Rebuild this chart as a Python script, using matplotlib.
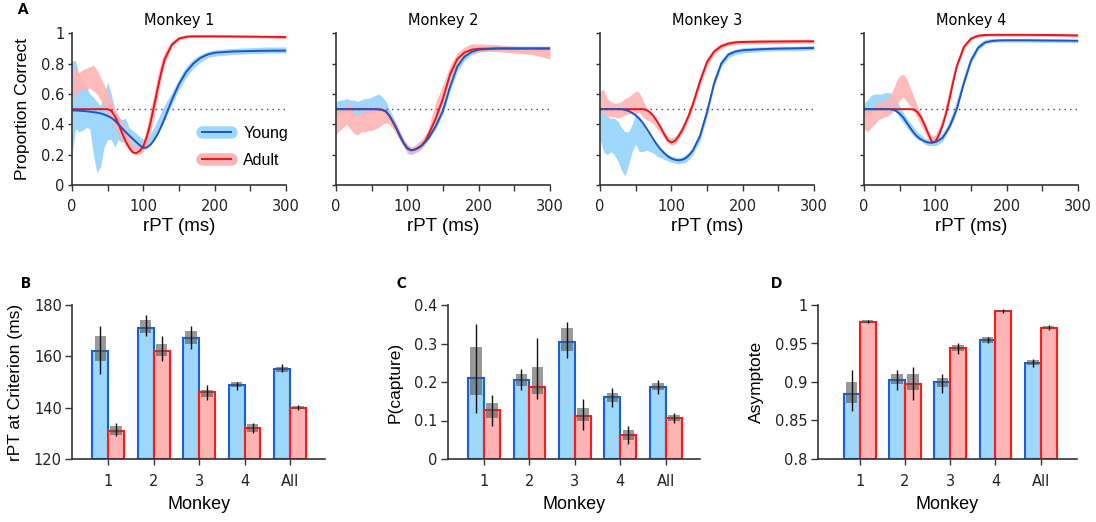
import matplotlib
matplotlib.use("Agg")
from matplotlib import pyplot as plt
from matplotlib.lines import Line2D
import numpy as np

plt.rcParams['font.family'] = ['Liberation Sans', 'DejaVu Sans']

# time grid (ms) for the curves
rpt = [0, 5, 10, 15, 20, 25, 30, 35, 40, 45, 50, 55, 60, 65, 70, 75, 80, 85, 90, 95,
       100, 105, 110, 115, 120, 125, 130, 140, 150, 160, 170, 180, 190, 200,
       225, 250, 275, 300]

# fitted curves
young_fit = [
    [0.492, 0.491, 0.49, 0.488, 0.486, 0.483, 0.48, 0.477, 0.472, 0.465, 0.455, 0.443, 0.425,
     0.40, 0.375, 0.35, 0.327, 0.305, 0.283, 0.262, 0.244, 0.248, 0.265, 0.295, 0.335, 0.385,
     0.44, 0.56, 0.665, 0.745, 0.80, 0.838, 0.86, 0.872, 0.88, 0.883, 0.885, 0.886],
    [0.5, 0.5, 0.5, 0.5, 0.5, 0.5, 0.5, 0.5, 0.5, 0.5, 0.5, 0.5, 0.499, 0.495, 0.485, 0.455,
     0.415, 0.37, 0.32, 0.275, 0.245, 0.23, 0.233, 0.243, 0.258, 0.283, 0.31, 0.39, 0.49, 0.65,
     0.78, 0.845, 0.877, 0.892, 0.9, 0.9, 0.9, 0.9],
    [0.5, 0.5, 0.5, 0.5, 0.5, 0.5, 0.5, 0.495, 0.488, 0.475, 0.46, 0.437, 0.41, 0.375, 0.338,
     0.30, 0.265, 0.235, 0.21, 0.19, 0.175, 0.166, 0.163, 0.166, 0.177, 0.197, 0.226, 0.32,
     0.48, 0.67, 0.80, 0.86, 0.88, 0.888, 0.895, 0.899, 0.901, 0.903],
    [0.5, 0.5, 0.5, 0.5, 0.5, 0.5, 0.5, 0.5, 0.497, 0.488, 0.47, 0.445, 0.41, 0.375, 0.343,
     0.318, 0.30, 0.288, 0.28, 0.278, 0.283, 0.295, 0.31, 0.345, 0.385, 0.44, 0.50, 0.67, 0.82,
     0.905, 0.94, 0.95, 0.953, 0.954, 0.954, 0.953, 0.952, 0.951],
]
adult_fit = [
    [0.5, 0.5, 0.5, 0.5, 0.5, 0.5, 0.5, 0.5, 0.5, 0.5, 0.5, 0.49, 0.455, 0.405, 0.345, 0.29,
     0.247, 0.215, 0.21, 0.225, 0.255, 0.32, 0.41, 0.52, 0.635, 0.74, 0.83, 0.925, 0.965, 0.977,
     0.98, 0.98, 0.98, 0.98, 0.979, 0.978, 0.977, 0.975],
    [0.5, 0.5, 0.5, 0.5, 0.5, 0.5, 0.5, 0.5, 0.5, 0.5, 0.5, 0.5, 0.499, 0.495, 0.485, 0.455,
     0.415, 0.37, 0.32, 0.275, 0.24, 0.228, 0.232, 0.245, 0.262, 0.29, 0.335, 0.44, 0.57, 0.73,
     0.83, 0.873, 0.892, 0.898, 0.9, 0.9, 0.9, 0.9],
    [0.5, 0.5, 0.5, 0.5, 0.5, 0.5, 0.5, 0.5, 0.5, 0.5, 0.5, 0.5, 0.5, 0.495, 0.48, 0.455, 0.42,
     0.38, 0.335, 0.295, 0.28, 0.29, 0.32, 0.36, 0.41, 0.465, 0.53, 0.68, 0.81, 0.88, 0.915,
     0.932, 0.94, 0.943, 0.945, 0.946, 0.947, 0.947],
    [0.5, 0.5, 0.5, 0.5, 0.5, 0.5, 0.5, 0.5, 0.5, 0.5, 0.5, 0.5, 0.5, 0.5, 0.497, 0.48, 0.445,
     0.395, 0.34, 0.285, 0.285, 0.33, 0.39, 0.47, 0.57, 0.68, 0.78, 0.91, 0.965, 0.984, 0.989,
     0.99, 0.99, 0.99, 0.99, 0.989, 0.988, 0.986],
]

# shaded data bands (lower / upper)
young_lo = [
    [0.20, 0.37, 0.35, 0.36, 0.38, 0.37, 0.20, 0.08, 0.12, 0.25, 0.30, 0.30, 0.25, 0.30, 0.28,
     0.30, 0.24, 0.22, 0.24, 0.22, 0.23, 0.24, 0.27, 0.30, 0.33, 0.38, 0.43, 0.53, 0.63, 0.71,
     0.77, 0.81, 0.84, 0.85, 0.86, 0.865, 0.87, 0.87],
    [0.45, 0.47, 0.47, 0.48, 0.47, 0.46, 0.46, 0.47, 0.47, 0.47, 0.48, 0.48, 0.49, 0.49, 0.47,
     0.44, 0.40, 0.35, 0.30, 0.25, 0.21, 0.20, 0.21, 0.22, 0.24, 0.27, 0.30, 0.37, 0.47, 0.62,
     0.75, 0.82, 0.86, 0.875, 0.885, 0.885, 0.885, 0.885],
    [0.30, 0.22, 0.20, 0.22, 0.20, 0.16, 0.10, 0.06, 0.13, 0.22, 0.27, 0.22, 0.22, 0.23, 0.22,
     0.21, 0.19, 0.18, 0.17, 0.16, 0.15, 0.145, 0.14, 0.145, 0.15, 0.17, 0.20, 0.29, 0.45, 0.65,
     0.78, 0.84, 0.86, 0.87, 0.88, 0.885, 0.885, 0.89],
    [0.44, 0.46, 0.48, 0.49, 0.50, 0.50, 0.49, 0.50, 0.50, 0.48, 0.44, 0.41, 0.38, 0.35, 0.32,
     0.30, 0.29, 0.27, 0.26, 0.26, 0.26, 0.27, 0.29, 0.33, 0.37, 0.42, 0.49, 0.66, 0.80, 0.89,
     0.93, 0.94, 0.942, 0.942, 0.942, 0.94, 0.94, 0.938],
]
young_hi = [
    [0.82, 0.82, 0.72, 0.70, 0.65, 0.60, 0.58, 0.55, 0.52, 0.60, 0.68, 0.60, 0.50, 0.45, 0.43,
     0.44, 0.38, 0.36, 0.34, 0.32, 0.30, 0.30, 0.34, 0.38, 0.43, 0.48, 0.53, 0.61, 0.70, 0.78,
     0.83, 0.86, 0.88, 0.89, 0.90, 0.905, 0.91, 0.91],
    [0.55, 0.56, 0.56, 0.57, 0.56, 0.56, 0.55, 0.56, 0.57, 0.57, 0.58, 0.59, 0.60, 0.58, 0.55,
     0.50, 0.45, 0.40, 0.35, 0.30, 0.26, 0.25, 0.25, 0.26, 0.28, 0.31, 0.35, 0.43, 0.53, 0.68,
     0.80, 0.87, 0.90, 0.91, 0.915, 0.915, 0.915, 0.915],
    [0.50, 0.48, 0.45, 0.44, 0.44, 0.42, 0.38, 0.35, 0.35, 0.40, 0.47, 0.45, 0.40, 0.36, 0.32,
     0.29, 0.26, 0.24, 0.22, 0.20, 0.19, 0.185, 0.18, 0.185, 0.20, 0.22, 0.25, 0.35, 0.52, 0.71,
     0.83, 0.88, 0.895, 0.905, 0.91, 0.915, 0.915, 0.92],
    [0.54, 0.56, 0.59, 0.60, 0.60, 0.60, 0.61, 0.61, 0.60, 0.56, 0.52, 0.48, 0.44, 0.41, 0.38,
     0.35, 0.33, 0.31, 0.30, 0.30, 0.30, 0.32, 0.34, 0.38, 0.43, 0.49, 0.56, 0.72, 0.85, 0.93,
     0.96, 0.965, 0.965, 0.965, 0.965, 0.963, 0.962, 0.96],
]
adult_lo = [
    [0.55, 0.60, 0.62, 0.63, 0.63, 0.64, 0.62, 0.60, 0.56, 0.52, 0.47, 0.43, 0.38, 0.34, 0.30,
     0.26, 0.23, 0.21, 0.20, 0.20, 0.22, 0.27, 0.35, 0.45, 0.58, 0.70, 0.80, 0.91, 0.955, 0.97,
     0.972, 0.972, 0.972, 0.972, 0.97, 0.97, 0.968, 0.965],
    [0.33, 0.36, 0.38, 0.40, 0.37, 0.34, 0.33, 0.35, 0.35, 0.36, 0.36, 0.37, 0.38, 0.40, 0.41,
     0.40, 0.37, 0.33, 0.29, 0.25, 0.22, 0.21, 0.21, 0.22, 0.24, 0.27, 0.31, 0.42, 0.55, 0.70,
     0.79, 0.85, 0.87, 0.88, 0.88, 0.87, 0.86, 0.83],
    [0.47, 0.48, 0.45, 0.45, 0.45, 0.44, 0.45, 0.46, 0.47, 0.47, 0.47, 0.48, 0.45, 0.43, 0.42,
     0.40, 0.37, 0.34, 0.31, 0.28, 0.26, 0.27, 0.30, 0.34, 0.38, 0.44, 0.50, 0.65, 0.78, 0.86,
     0.90, 0.92, 0.925, 0.93, 0.93, 0.932, 0.935, 0.935],
    [0.37, 0.35, 0.38, 0.40, 0.43, 0.44, 0.45, 0.46, 0.48, 0.52, 0.56, 0.58, 0.55, 0.52, 0.48,
     0.44, 0.39, 0.35, 0.30, 0.27, 0.28, 0.32, 0.38, 0.47, 0.56, 0.67, 0.77, 0.89, 0.955, 0.975,
     0.98, 0.98, 0.98, 0.98, 0.98, 0.98, 0.978, 0.975],
]
adult_hi = [
    [0.75, 0.77, 0.74, 0.76, 0.77, 0.78, 0.79, 0.76, 0.71, 0.66, 0.61, 0.56, 0.50, 0.46, 0.42,
     0.37, 0.32, 0.28, 0.25, 0.26, 0.30, 0.38, 0.50, 0.60, 0.72, 0.82, 0.88, 0.95, 0.98, 0.99,
     0.99, 0.99, 0.99, 0.99, 0.988, 0.988, 0.985, 0.985],
    [0.48, 0.49, 0.50, 0.54, 0.53, 0.47, 0.47, 0.48, 0.48, 0.49, 0.49, 0.50, 0.50, 0.51, 0.50,
     0.47, 0.44, 0.40, 0.35, 0.30, 0.27, 0.25, 0.26, 0.28, 0.30, 0.33, 0.38, 0.55, 0.66, 0.79,
     0.87, 0.91, 0.93, 0.93, 0.925, 0.915, 0.905, 0.90],
    [0.62, 0.63, 0.57, 0.55, 0.54, 0.54, 0.55, 0.57, 0.58, 0.60, 0.62, 0.61, 0.56, 0.51, 0.48,
     0.45, 0.42, 0.39, 0.35, 0.32, 0.31, 0.32, 0.35, 0.39, 0.44, 0.50, 0.57, 0.72, 0.84, 0.90,
     0.935, 0.95, 0.955, 0.955, 0.958, 0.958, 0.96, 0.96],
    [0.50, 0.48, 0.50, 0.53, 0.55, 0.55, 0.56, 0.58, 0.62, 0.68, 0.72, 0.73, 0.70, 0.64, 0.58,
     0.52, 0.47, 0.42, 0.36, 0.32, 0.33, 0.38, 0.44, 0.54, 0.64, 0.74, 0.82, 0.93, 0.98, 0.995,
     0.998, 0.998, 0.998, 0.998, 0.998, 0.997, 0.996, 0.995],
]
monkeys_top = ['Monkey 1', 'Monkey 2', 'Monkey 3', 'Monkey 4']

# bar panels
groups = ['1', '2', '3', '4', 'All']

crit_young = [162, 171, 167, 149, 155]
crit_adult = [131, 162, 146, 132, 140]
crit_young_box = [(158, 168), (169, 174), (165, 170), (148, 150), (154, 156)]
crit_adult_box = [(129.5, 133), (160, 165), (144, 147), (130.5, 133.5), (139.5, 140.5)]
crit_young_ci = [(153, 172), (168, 176), (163, 172), (147, 150), (154, 157)]
crit_adult_ci = [(129, 134), (158, 168), (143, 149), (130, 134), (139, 141)]

cap_young = [0.21, 0.205, 0.305, 0.16, 0.187]
cap_adult = [0.128, 0.187, 0.112, 0.062, 0.107]
cap_young_box = [(0.165, 0.29), (0.19, 0.22), (0.28, 0.34), (0.148, 0.172), (0.178, 0.197)]
cap_adult_box = [(0.107, 0.145), (0.17, 0.24), (0.10, 0.133), (0.05, 0.075), (0.10, 0.115)]
cap_young_ci = [(0.12, 0.35), (0.178, 0.235), (0.262, 0.357), (0.135, 0.185), (0.168, 0.205)]
cap_adult_ci = [(0.085, 0.165), (0.155, 0.313), (0.076, 0.155), (0.04, 0.085), (0.093, 0.12)]

asym_young = [0.884, 0.902, 0.90, 0.954, 0.925]
asym_adult = [0.978, 0.897, 0.944, 0.992, 0.97]
asym_young_box = [(0.873, 0.90), (0.897, 0.91), (0.893, 0.905), (0.951, 0.958), (0.922, 0.928)]
asym_adult_box = [(0.977, 0.98), (0.89, 0.91), (0.94, 0.948), (0.991, 0.994), (0.969, 0.973)]
asym_young_ci = [(0.862, 0.915), (0.89, 0.915), (0.886, 0.91), (0.95, 0.958), (0.92, 0.93)]
asym_adult_ci = [(0.976, 0.981), (0.876, 0.92), (0.936, 0.95), (0.99, 0.995), (0.968, 0.974)]

Y_BAND, Y_LINE = '#9dd7fb', '#1f55c0'
A_BAND, A_LINE = '#ffb3b3', '#e8141c'
Y_BAR, Y_EDGE = '#9dd7fb', '#1a5fd6'
A_BAR, A_EDGE = '#ffb3b3', '#ff1a1a'
SPINE = '#333333'
TICKFONT = ['DejaVu Sans']

W, H = 1096, 522
fig = plt.figure(figsize=(W / 100, H / 100), dpi=100)


def style_axes(ax, xlen, ylen):
    for s in ['top', 'right']:
        ax.spines[s].set_visible(False)
    for s in ['left', 'bottom']:
        ax.spines[s].set_color(SPINE)
        ax.spines[s].set_linewidth(1.2)
    ax.tick_params(direction='out', width=1, color=SPINE, labelcolor='#222222')
    ax.tick_params(axis='x', length=xlen, pad=6)
    ax.tick_params(axis='y', length=ylen, pad=2.5)


def tick_font(ax):
    for t in ax.get_xticklabels() + ax.get_yticklabels():
        t.set_family(TICKFONT)
        t.set_fontsize(10.5)


# --- top row
top_left = [72, 336, 600, 864]
for i in range(4):
    ax = fig.add_axes([top_left[i] / W, 1 - 185 / H, 214 / W, (185 - 33.3) / H])
    style_axes(ax, 4, 3)
    ax.fill_between(rpt, young_lo[i], young_hi[i], color=Y_BAND, lw=0)
    ax.fill_between(rpt, adult_lo[i], adult_hi[i], color=A_BAND, lw=0, alpha=0.9)
    ax.plot([0, 300], [0.5, 0.5], ls=(0, (1, 3)), color='#444444', lw=1)
    ax.plot(rpt, adult_fit[i], color=A_LINE, lw=1.4)
    ax.plot(rpt, young_fit[i], color=Y_LINE, lw=1.4)
    ax.set_xlim(0, 300)
    ax.set_ylim(0, 1)
    ax.set_xticks([0, 50, 100, 150, 200, 250, 300])
    ax.set_xticklabels(['0', '', '100', '', '200', '', '300'])
    ax.set_yticks([0, 0.2, 0.4, 0.6, 0.8, 1])
    if i == 0:
        ax.set_yticklabels(['0', '0.2', '0.4', '0.6', '0.8', '1'])
        ax.set_ylabel('Proportion Correct', fontsize=12.5, labelpad=8)
        h1 = (Line2D([], [], color=Y_BAND, lw=9, solid_capstyle='round'),
              Line2D([], [], color=Y_LINE, lw=1.4))
        h2 = (Line2D([], [], color=A_BAND, lw=9, solid_capstyle='round'),
              Line2D([], [], color=A_LINE, lw=1.4))
        ax.legend([h1, h2], ['Young', 'Adult'], frameon=False, fontsize=11.5,
                  loc='lower left', bbox_to_anchor=(0.54, 0.02), handlelength=1.8,
                  labelspacing=0.75)
    else:
        ax.set_yticklabels([])
    tick_font(ax)
    ax.set_xlabel('rPT (ms)', fontsize=13.5, labelpad=3)
    ax.set_title(monkeys_top[i], fontsize=10.5, pad=6, family=TICKFONT)

# --- bottom row
bw = 0.35
xg = np.arange(1, 6)


def bar_panel(rect, xlim, ylim, yticks, yticklabels, ylabel,
              young, adult, ybox, abox, yci, aci):
    ax = fig.add_axes(rect)
    style_axes(ax, 4.5, 5)
    base = ylim[0]
    ax.bar(xg - bw / 2, np.array(young) - base, bottom=base, width=bw,
           color=Y_BAR, edgecolor=Y_EDGE, lw=1.5, zorder=2)
    ax.bar(xg + bw / 2, np.array(adult) - base, bottom=base, width=bw,
           color=A_BAR, edgecolor=A_EDGE, lw=1.5, zorder=2)
    for off, box, ci in [(-bw / 2, ybox, yci), (bw / 2, abox, aci)]:
        lo = np.array([b[0] for b in box])
        hi = np.array([b[1] for b in box])
        ax.bar(xg + off, hi - lo, bottom=lo, width=bw * 0.72, color='#555555',
               alpha=0.6, lw=0, zorder=3)
        ax.vlines(xg + off, [c[0] for c in ci], [c[1] for c in ci],
                  color='#111111', lw=1, zorder=4)
    ax.set_xlim(*xlim)
    ax.set_ylim(*ylim)
    ax.set_xticks(xg)
    ax.set_xticklabels(groups)
    ax.set_yticks(yticks)
    ax.set_yticklabels(yticklabels)
    tick_font(ax)
    ax.set_xlabel('Monkey', fontsize=13, labelpad=5)
    ax.set_ylabel(ylabel, fontsize=12.5, labelpad=8)
    return ax


bot_y = 1 - 459 / H
bot_h = 154 / H
bar_panel([72.3 / W, bot_y, 252.7 / W, bot_h], (0.21, 5.77), (120, 180),
          [120, 140, 160, 180], ['120', '140', '160', '180'], 'rPT at Criterion (ms)',
          crit_young, crit_adult, crit_young_box, crit_adult_box, crit_young_ci, crit_adult_ci)
bar_panel([448 / W, bot_y, 252 / W, bot_h], (0.21, 5.75), (0, 0.4),
          [0, 0.1, 0.2, 0.3, 0.4], ['0', '0.1', '0.2', '0.3', '0.4'], 'P(capture)',
          cap_young, cap_adult, cap_young_box, cap_adult_box, cap_young_ci, cap_adult_ci)
bar_panel([818 / W, bot_y, 259 / W, bot_h], (0.08, 5.8), (0.8, 1.0),
          [0.8, 0.85, 0.9, 0.95, 1.0], ['0.8', '0.85', '0.9', '0.95', '1'], 'Asymptote',
          asym_young, asym_adult, asym_young_box, asym_adult_box, asym_young_ci, asym_adult_ci)

# panel letters
for lab, px, py in [('A', 22, 9), ('B', 26, 283), ('C', 401, 283), ('D', 776, 283)]:
    fig.text(px / W, 1 - py / H, lab, fontsize=10.5, fontweight='heavy',
             ha='center', va='center', family=['Lato', 'DejaVu Sans'])

fig.savefig('out.png', dpi=100)
